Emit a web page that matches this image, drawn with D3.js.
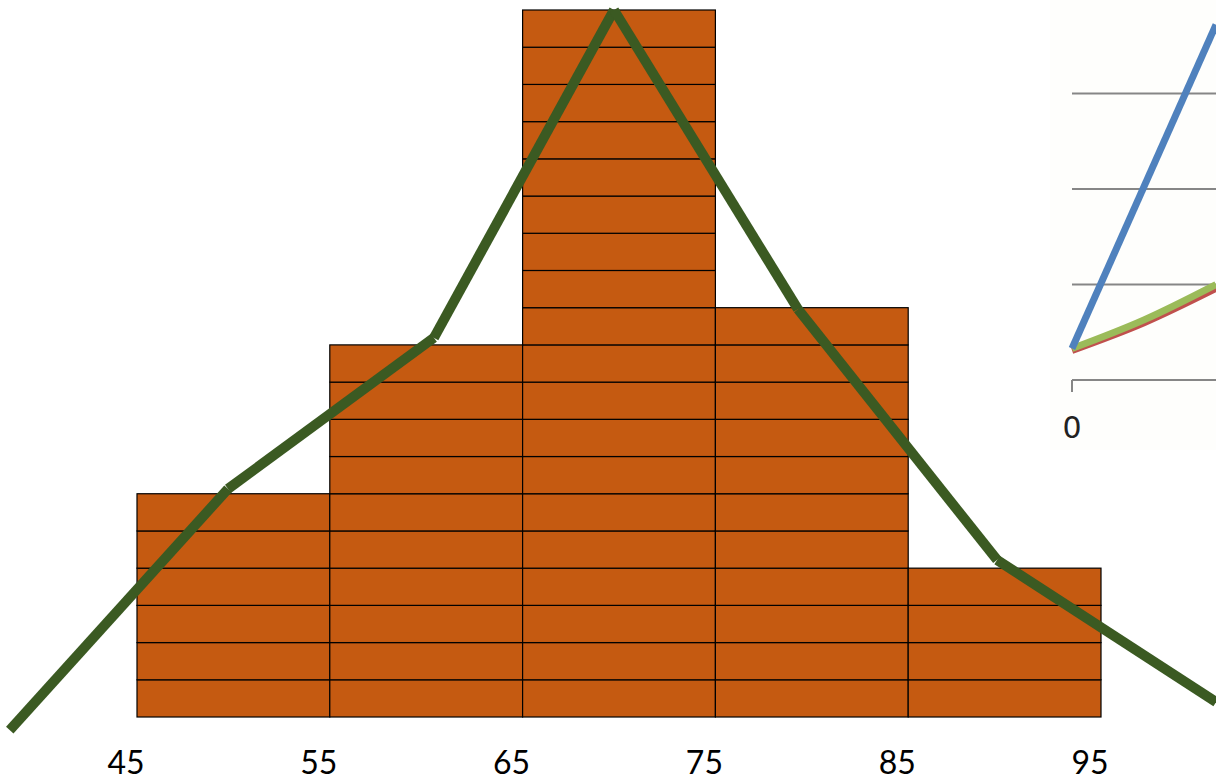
<!DOCTYPE html>
<html><head><meta charset="utf-8">
<script src="https://cdn.jsdelivr.net/npm/d3@7"></script>
<style>html,body{margin:0;padding:0;background:#fff;overflow:hidden}</style>
</head><body>
<svg id="c" width="1216" height="781"></svg>
<script>
// Histogram data
const binEdges = [45, 55, 65, 75, 85, 95];
const counts = [6, 10, 19, 11, 4];
const tickLabels = ["45", "55", "65", "75", "85", "95"];
// Frequency polygon (hand-drawn line), [x, frequency]
const polyX = [38.4, 49.72, 60.4, 69.74, 79.28, 89.61, 100.97];
const polyY = [-0.35, 6.13, 10.19, 19.0, 10.96, 4.22, 0.40];
// Inset chart (partial, top-right)
const insetGrid = [0, 1, 2, 3, 4];
const insetBlue = [[0, 0.33], [1, 3.72]];
const insetGreen = [[0, 0.33], [0.5, 0.63], [1, 1.0]];
const insetRed = [[0, 0.31], [0.5, 0.6], [1, 0.96]];
const insetLabel = ["0"];

const svg = d3.select("#c");
const x = d3.scaleLinear().domain([45, 95]).range([137, 1101]);
const y = d3.scaleLinear().domain([0, 19]).range([717, 10]);

// Bars as stacked unit blocks
const units = [];
counts.forEach((c, i) => { for (let k = 0; k < c; k++) units.push({ x0: binEdges[i], x1: binEdges[i + 1], k }); });
svg.append("g").selectAll("rect").data(units).join("rect")
  .attr("x", d => x(d.x0)).attr("width", d => x(d.x1) - x(d.x0))
  .attr("y", d => y(d.k + 1)).attr("height", d => y(d.k) - y(d.k + 1))
  .attr("fill", "#C55A11").attr("stroke", "#000").attr("stroke-width", 1.2);

// Tick labels
svg.append("g").selectAll("text").data(binEdges).join("text")
  .attr("x", d => x(d) - 11).attr("y", 774)
  .attr("text-anchor", "middle")
  .attr("font-family", "Lato, 'Open Sans', sans-serif").attr("font-size", 32)
  .attr("fill", "#000")
  .text((d, i) => tickLabels[i]);

// Inset chart
const ix = d3.scaleLinear().domain([0, 1]).range([1072, 1216]);
const iy = d3.scaleLinear().domain([0, 4]).range([380, -2]);
const ig = svg.append("g");
ig.append("rect").attr("x", 1050).attr("y", 0).attr("width", 166).attr("height", 450).attr("fill", "#fefefc");
ig.selectAll("line.g").data(insetGrid).join("line")
  .attr("x1", ix(0)).attr("x2", ix(1)).attr("y1", d => iy(d)).attr("y2", d => iy(d))
  .attr("stroke", "#868686").attr("stroke-width", 2);
ig.append("line").attr("x1", ix(0)).attr("x2", ix(0)).attr("y1", iy(0)).attr("y2", iy(0) + 12)
  .attr("stroke", "#868686").attr("stroke-width", 2);
ig.append("text").attr("x", ix(0)).attr("y", 438).attr("text-anchor", "middle")
  .attr("font-family", "'DejaVu Sans', sans-serif").attr("font-size", 30).attr("fill", "#222")
  .text(insetLabel[0]);
const il = d3.line().x(d => ix(d[0])).y(d => iy(d[1])).curve(d3.curveMonotoneX);
ig.append("path").attr("d", il(insetRed)).attr("fill", "none").attr("stroke", "#C0504D").attr("stroke-width", 7);
ig.append("path").attr("d", il(insetGreen)).attr("fill", "none").attr("stroke", "#9BBB59").attr("stroke-width", 7);
ig.append("path").attr("d", il(insetBlue)).attr("fill", "none").attr("stroke", "#4F81BD").attr("stroke-width", 7);

// Frequency polygon: separate segments with butt caps
const segs = d3.range(polyX.length - 1).map(i => [polyX[i], polyY[i], polyX[i + 1], polyY[i + 1]]);
svg.append("g").selectAll("line").data(segs).join("line")
  .attr("x1", d => x(d[0])).attr("y1", d => y(d[1]))
  .attr("x2", d => x(d[2])).attr("y2", d => y(d[3]))
  .attr("stroke", "#3B5A22").attr("stroke-width", 10).attr("stroke-linecap", "butt");
</script>
</body></html>
